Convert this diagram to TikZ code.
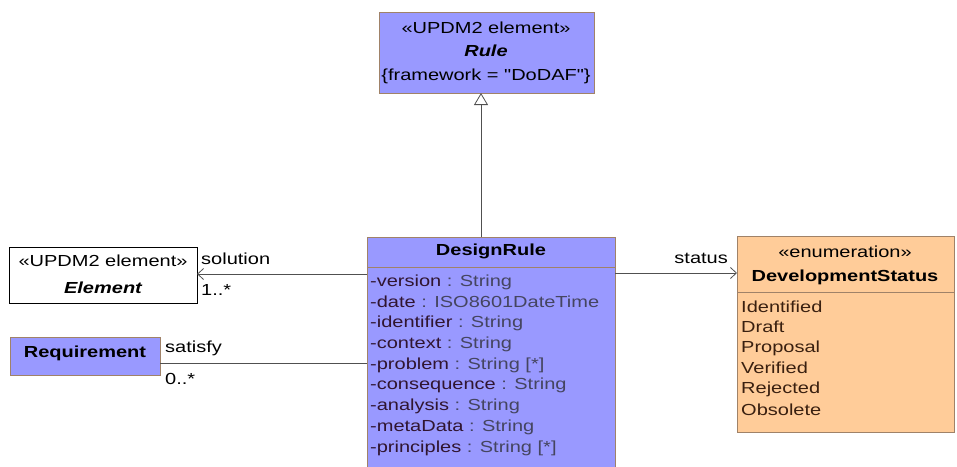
\documentclass[tikz,border=0pt]{standalone}
\usepackage{fontspec}
\newfontfamily\umlfont{Liberation Sans}[FakeStretch=1.25]
\usetikzlibrary{arrows.meta}
\definecolor{umlblue}{HTML}{9999FF}
\definecolor{umlorange}{HTML}{FFCC99}
\definecolor{umlborder}{HTML}{A08268}
\definecolor{attrname}{HTML}{301530}
\definecolor{attrtype}{HTML}{454560}
\definecolor{litcol}{HTML}{3A2010}
\definecolor{linecol}{HTML}{505050}
\begin{document}
\begin{tikzpicture}[x=1pt,y=-1pt,
  txt/.style={inner sep=0pt,font=\umlfont\fontsize{16}{19}\selectfont},
  btxt/.style={inner sep=0pt,font=\umlfont\fontsize{16}{19}\selectfont\bfseries},
  bitxt/.style={inner sep=0pt,font=\umlfont\fontsize{16}{19}\selectfont\bfseries\itshape},
  bluebox/.style={draw=umlborder,fill=umlblue,line width=1pt},
  orangebox/.style={draw=umlborder,fill=umlorange,line width=1pt},
  whitebox/.style={draw=black,fill=white,line width=1pt},
  conn/.style={draw=linecol,line width=1pt},
  openarrow/.style={conn,-{Straight Barb[length=6pt,width=11pt,line width=0.8pt]}},
  genarrow/.style={conn,-{Triangle[open,length=12pt,width=14pt,fill=white,line width=0.8pt]}}
]
\useasboundingbox (0,0) rectangle (957,466);
% Rule
\path[bluebox] (379,12) rectangle (594,93);
\node[txt] (rs) at (486,28) {«UPDM2 element»};
\node[bitxt] (rn) at (486,51) {Rule};
\node[txt] (rt) at (486,76) {\{framework = "DoDAF"\}};
% DesignRule
\path[bluebox] (367,237) rectangle (615,470);
\draw[umlborder,line width=1pt] (367,267) -- (615,267);
\node[btxt] (dn) at (491,251) {DesignRule};
\foreach \nm/\ty/\yy [count=\i] in {version/String/282,date/ISO8601DateTime/302,identifier/String/323,context/String/344,problem/String [*]/365,consequence/String/385,analysis/String/406,metaData/String/427,principles/String [*]/448}{
  \node[txt,anchor=west] (a\i) at (370,\yy) {\textcolor{attrname}{-\nm} \textcolor{attrtype}{: \ty}};
}
% Element
\path[whitebox] (9,247) rectangle (197,303);
\node[txt] (es) at (103,261) {«UPDM2 element»};
\node[bitxt] (en) at (103,288) {Element};
% Requirement
\path[bluebox] (10,337) rectangle (160,375);
\node[btxt] (rq) at (85,353) {Requirement};
% DevelopmentStatus
\path[orangebox] (737,236) rectangle (954,432);
\draw[umlborder,line width=1pt] (737,292) -- (954,292);
\node[txt] (ds) at (845,252) {«enumeration»};
\node[btxt] (dsn) at (845,277) {DevelopmentStatus};
\foreach \lit/\yy [count=\i] in {Identified/307,Draft/327,Proposal/348,Verified/368,Rejected/389,Obsolete/410}{
  \node[txt,anchor=west,text=litcol] (l\i) at (741,\yy) {\lit};
}
% connectors
\coordinate (g1) at (481,237);
\coordinate (g2) at (481,93);
\draw[genarrow] (g1) -- (g2);
\coordinate (s1) at (367,274);
\coordinate (s2) at (197,274);
\draw[openarrow] (s1) -- (s2);
\coordinate (q1) at (367,363);
\coordinate (q2) at (160,363);
\draw[conn] (q1) -- (q2);
\coordinate (t1) at (615,273);
\coordinate (t2) at (737,273);
\draw[openarrow] (t1) -- (t2);
% labels
\node[txt,anchor=west] (lsol) at (201,259) {solution};
\node[txt,anchor=west] (lm1) at (201,290) {1..*};
\node[txt,anchor=west] (lsat) at (165,348) {satisfy};
\node[txt,anchor=west] (lm2) at (165,379) {0..*};
\node[txt,anchor=east] (lst) at (728,258) {status};
\end{tikzpicture}
\end{document}
